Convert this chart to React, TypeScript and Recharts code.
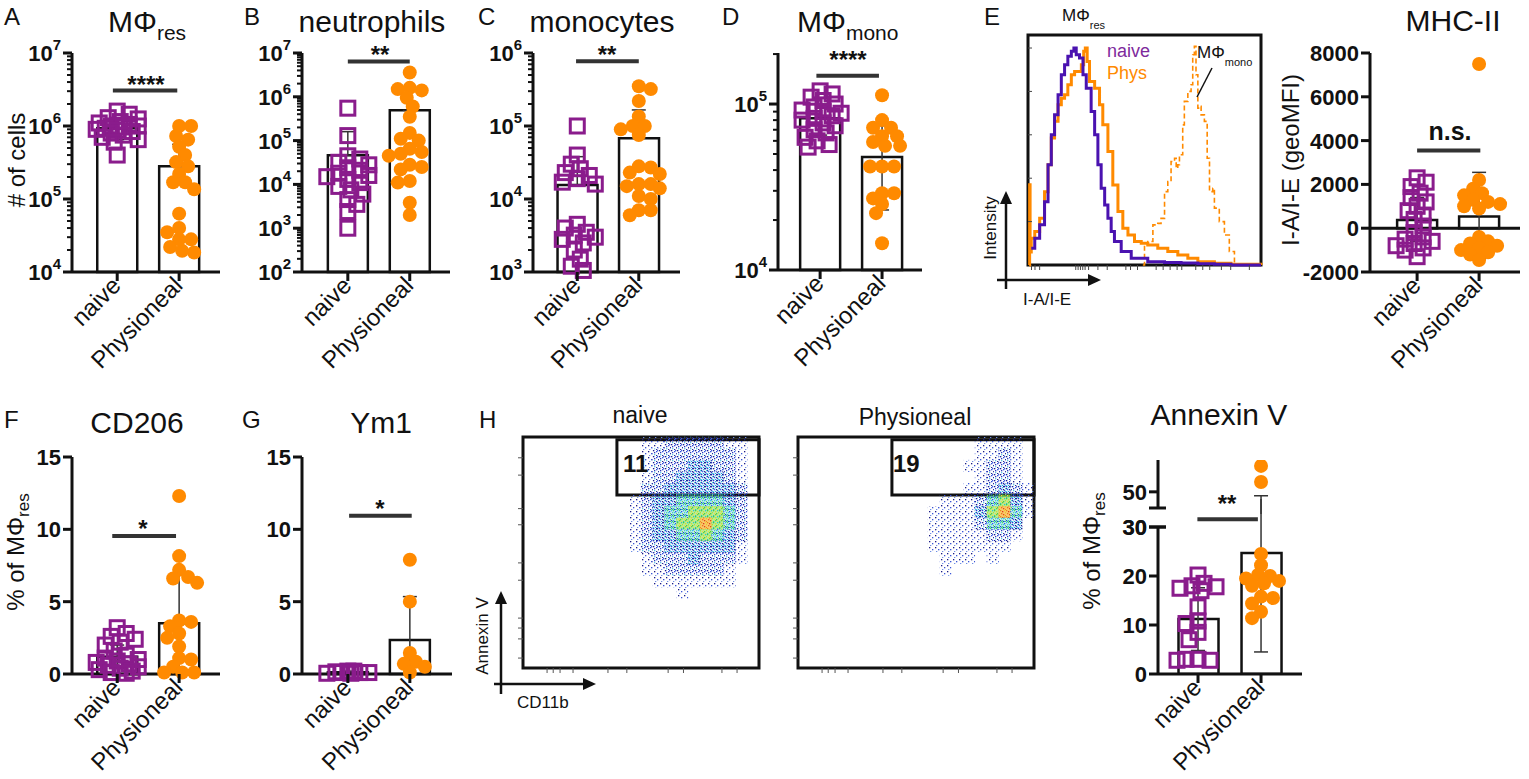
import React from "react";
import {
  ComposedChart,
  Bar,
  Scatter,
  ErrorBar,
  XAxis,
  YAxis,
  ReferenceLine,
  ReferenceArea,
  Line,
} from "recharts";

const FONT = '"Liberation Sans", Arial, Helvetica, sans-serif';
const INK = "#111";
const PURPLE = "#8a1c8c";
const ORANGE = "#ff8a00";
const GROUPS = ["naive", "Physioneal"];

// A – MΦres, # of cells
const resNaive = [1.6e6, 1.45e6, 1.3e6, 1.25e6, 1.15e6, 1.1e6, 1.05e6, 1.0e6, 1.0e6, 9.7e5, 9.3e5, 9.0e5, 8.7e5, 8.4e5, 8.0e5, 7.5e5, 7.0e5, 6.5e5, 6.0e5, 4.0e5];
const resPhys = [1.0e6, 1.0e6, 7.3e5, 6.5e5, 5.2e5, 4.0e5, 3.2e5, 2.8e5, 2.2e5, 1.7e5, 1.7e5, 1.36e5, 6.3e4, 4.0e4, 3.5e4, 2.8e4, 2.8e4, 2.2e4, 1.95e4, 1.85e4];
const resMean = [9.3e5, 2.8e5];
const resLow = [6.5e5, 2.8e5];
const resHigh = [1.2e6, 5.6e5];

// B – neutrophils
const neuNaive = [5.5e5, 1.3e5, 4.5e4, 3.8e4, 3.2e4, 2.8e4, 2.4e4, 2.1e4, 1.8e4, 1.6e4, 1.5e4, 1.3e4, 1.1e4, 9e3, 7.5e3, 6e3, 4.5e3, 3.5e3, 2.4e3, 1e3];
const neuPhys = [3.6e6, 1.6e6, 1.5e6, 1.4e6, 9.5e5, 6e5, 3.5e5, 1.5e5, 1.1e5, 1e5, 6.5e4, 5.5e4, 5e4, 4.5e4, 2.8e4, 2.5e4, 2.2e4, 1.2e4, 1.1e4, 3.8e3, 2e3];
const neuMean = [4.6e4, 4.9e5];
const neuLow = [4.6e4, 4.9e5];
const neuHigh = [1.6e5, 1.4e6];

// C – monocytes
const monNaive = [1e5, 4e4, 3e4, 2.6e4, 2.3e4, 2.1e4, 1.9e4, 1.7e4, 1.6e4, 4.5e3, 4e3, 3.5e3, 3.2e3, 3e3, 2.8e3, 2.5e3, 2e3, 1.5e3, 1.2e3, 1.05e3];
const monPhys = [3.5e5, 3.2e5, 2.2e5, 1.35e5, 1e5, 1e5, 9e4, 7.5e4, 2.8e4, 2.7e4, 2.3e4, 2.2e4, 1.6e4, 1.6e4, 1.5e4, 1.4e4, 1.1e4, 1e4, 7e3, 7e3, 6e3];
const monMean = [1.55e4, 6.8e4];
const monLow = [1.55e4, 6.8e4];
const monHigh = [3.8e4, 1.66e5];

// D – MΦmono
const mmNaive = [1.2e5, 1.15e5, 1.1e5, 1.05e5, 1e5, 9.6e4, 9.2e4, 9e4, 8.8e4, 8.5e4, 8.2e4, 8e4, 7.7e4, 7.4e4, 7e4, 6.7e4, 6.3e4, 6e4, 5.7e4, 5.5e4];
const mmPhys = [1.13e5, 8e4, 7.2e4, 7.2e4, 6.4e4, 6.4e4, 5.9e4, 5.6e4, 5.6e4, 4.2e4, 4.2e4, 4.2e4, 2.9e4, 2.9e4, 2.7e4, 2.5e4, 2.2e4, 1.45e4];
const mmMean = [8.2e4, 4.8e4];
const mmLow = [6.5e4, 2.3e4];
const mmHigh = [1e5, 7.4e4];

// E – MHC-II geoMFI
const mhcNaive = [2300, 2100, 1900, 1600, 1400, 1200, 1000, 800, 600, 400, 100, -200, -400, -500, -600, -700, -800, -900, -1000, -1300];
const mhcPhys = [7500, 2200, 1800, 1600, 1500, 1300, 1200, 1100, 1000, 900, -400, -600, -700, -800, -900, -1000, -1100, -1200, -1450];
const mhcMean = [380, 530];
const mhcLow = [-600, -1400];
const mhcHigh = [1400, 2550];

// F – CD206
const cdNaive = [3.2, 2.8, 2.6, 2.4, 2.2, 2.0, 1.6, 1.3, 1.1, 1.0, 0.9, 0.8, 0.7, 0.6, 0.5, 0.4, 0.3, 0.2, 0.1, 0.05];
const cdPhys = [12.3, 8.15, 7.2, 6.7, 6.6, 6.3, 3.7, 3.6, 3.3, 2.8, 2.5, 1.9, 1.1, 1.0, 0.5, 0.1, 0.1, 0.1];
const cdMean = [1.2, 3.5];
const cdLow = [0.4, 0];
const cdHigh = [2.0, 6.95];

// G – Ym1
const ymNaive = [0.2, 0.1, 0.15, 0.05, 0.1, 0.2, 0.1, 0.05];
const ymPhys = [7.9, 5.0, 1.45, 0.85, 0.7, 0.5, 0.1];
const ymMean = [0.12, 2.35];
const ymLow = [0.05, 0];
const ymHigh = [0.2, 5.35];

// H – Annexin V
const anNaive = [20.2, 18.5, 18, 17.8, 17.5, 17, 13.7, 10.8, 10.3, 8.5, 7, 3, 3, 2.8, 2.8];
const anPhys = [55.3, 52, 24.5, 22.2, 20.2, 20, 19.5, 19, 18.5, 18, 15.8, 15.5, 14.4, 12.7, 11.4];
const anMean = [11.2, 24.7];
const anLow = [4.8, 4.5];
const anHigh = [17.6, 49.2];

// E – histogram (bin, % of max)
const histNaive = [[1.4, 7.7], [2.9, 12.3], [5, 18.5], [7.1, 29.2], [8.6, 46.2], [10, 60], [11.4, 69.2], [12.9, 78.5], [14.3, 87.7], [15.7, 92.3], [17.1, 96.2], [18.6, 98.5], [19.7, 100], [20.7, 96.9], [22.1, 95.4], [23.6, 87.7], [25, 81.5], [27.1, 70.8], [28.6, 60], [30, 46.2], [31.4, 35.4], [32.9, 27.7], [34.3, 21.5], [35.7, 15.4], [37.1, 10.8], [40, 6.2], [44.3, 3.1], [51.4, 1.5], [58.6, 1.2], [65.7, 0.9], [72.9, 0.6], [80, 0.3], [87.1, 0], [100, 0]];
const histPhys = [[0.5, 0], [0.7, 37], [0.9, 6], [1.4, 12.3], [2.9, 15.4], [5, 21.5], [7.1, 33.8], [8.6, 46.2], [10, 58.5], [11.4, 66.2], [12.9, 73.8], [14.3, 76.9], [15.7, 78.5], [17.1, 83.1], [18.6, 87.7], [20, 89.2], [21.4, 89.2], [22.9, 92.3], [23.9, 98.5], [24.6, 100], [25.4, 93.8], [26.4, 84.6], [28.6, 81.5], [30.7, 73.8], [32.1, 64.6], [34.3, 52.3], [36.4, 36.9], [38.6, 24.6], [40.7, 16.9], [42.9, 13.8], [45.7, 10.8], [48.6, 10], [51.4, 9.2], [55.7, 7.7], [60, 6.2], [64.3, 4.6], [68.6, 3.1], [72.9, 1.5], [80, 0.8], [87.1, 0.3], [100, 0]];
const histMono = [[49.3, 0], [50, 9.2], [51.4, 10.8], [53.6, 18.5], [55.7, 19.2], [57.1, 21.5], [58.6, 33.8], [60, 38.5], [61.4, 47.7], [62.9, 49.2], [63.6, 44.6], [64.3, 46.2], [65, 50.8], [66.4, 64.6], [67.1, 75.4], [68.6, 80], [70, 83.1], [70.7, 96.9], [71.4, 100.8], [72.1, 87.7], [72.9, 72.3], [73.6, 73.1], [74.3, 69.2], [75.7, 66.2], [76.9, 49.2], [77.9, 33.8], [79.3, 35.4], [80, 26.2], [82.1, 20], [84.3, 13.8], [86.4, 6.2], [88.6, 0]];
const histTicksX = [1.5, 3, 5, 20.5, 21.5, 22.5, 23.5, 24.5, 26, 30, 34, 42, 44, 47, 55, 58, 61, 64, 66, 72, 75, 78, 83, 87, 95];

// H – flow density, 5-unit cells, rows from top (95–100) downwards
const flowNaive = [
  "001122222110",
  "001222222210",
  "001222332210",
  "001223333210",
  "002233333320",
  "012334444320",
  "012344555420",
  "012345565420",
  "012334454320",
  "012233333310",
  "001222322210",
  "001122222100",
  "000111111100",
  "000001000000",
];
const flowPhys = [
  "0000011110",
  "0000011210",
  "0000112210",
  "0000012210",
  "0000112321",
  "0011124531",
  "0111135641",
  "0111124430",
  "0111112210",
  "0111111100",
  "0011101000",
  "0010000000",
  "0000000000",
];
const flowTicksX = [10.2, 12.8, 15.7, 21.2, 36, 44, 61.5, 68, 84.3, 90.7];
const flowTicksY = [91, 83.5, 69, 62, 45.5, 38, 21.6, 17.3, 12.6, 4.3];

// speckle patterns per density level: [x, y, colour] in a 6x6 tile
const speckles: { bg?: string; dots: [number, number, string][] }[] = [
  { dots: [] },
  { dots: [[1, 1, "#1c1c86"], [4, 3, "#3a55d8"], [2, 5, "#6d8ee6"]] },
  {
    dots: [[0, 0, "#1a1a90"], [3, 1, "#2f4fe0"], [5, 3, "#1f2f9f"], [1, 4, "#5bc6e8"], [3, 5, "#22268e"], [1, 2, "#2a3ac0"], [4, 0, "#4060e0"]],
  },
  {
    dots: [[0, 0, "#1f3fd8"], [2, 1, "#2bb5e6"], [4, 0, "#1a2aa0"], [5, 2, "#3dd6d6"], [1, 3, "#2a6ae6"], [3, 3, "#1a1a88"], [0, 5, "#5ad0e0"], [4, 4, "#2a4ad0"], [2, 5, "#20a0e0"], [3, 0, "#1a2090"], [5, 5, "#40c0e8"], [0, 2, "#2438b8"]],
  },
  {
    bg: "rgba(70,190,220,0.3)",
    dots: [[0, 0, "#2ac0e0"], [2, 0, "#48d46a"], [4, 1, "#2a5ae0"], [1, 2, "#4ad6b0"], [3, 2, "#30c8e8"], [5, 3, "#60d850"], [0, 4, "#2050d8"], [2, 4, "#40d0a0"], [4, 5, "#22b8e0"], [5, 5, "#50d860"], [3, 5, "#1f3fc8"], [1, 5, "#38d068"]],
  },
  {
    bg: "rgba(130,220,70,0.55)",
    dots: [[0, 0, "#40d040"], [2, 1, "#c8e030"], [4, 0, "#2ec8c8"], [1, 3, "#e6e040"], [3, 3, "#48d048"], [5, 2, "#b0e030"], [0, 5, "#30c8b0"], [4, 5, "#e0e040"], [2, 4, "#60d040"]],
  },
  {
    bg: "rgba(245,180,40,0.7)",
    dots: [[0, 0, "#f08020"], [2, 1, "#e03a1a"], [4, 0, "#f0d030"], [1, 3, "#f06a20"], [3, 4, "#e04a1a"], [5, 2, "#f0c030"], [5, 5, "#f08a20"]],
  },
];

function swarm(vals: number[], toPx: (v: number) => number, ok: (v: number) => boolean, unit: number) {
  const placed: { x: number; y: number }[] = [];
  return vals.map((v, i) => {
    if (!ok(v)) return 0;
    const y = toPx(v);
    const cands = [0];
    for (let s = 3; s <= 21; s += 3) cands.push(i % 2 ? s : -s, i % 2 ? -s : s);
    let best = 0;
    let bestD = -1;
    for (const c of cands) {
      let md = Infinity;
      for (const q of placed) md = Math.min(md, Math.hypot(q.x - c, q.y - y));
      if (md >= 10) {
        best = c;
        break;
      }
      if (md > bestD) {
        bestD = md;
        best = c;
      }
    }
    placed.push({ x: best, y });
    return best / unit;
  });
}

type Panel = {
  left: number;
  top: number;
  width: number;
  height: number;
  xDomain: [number, number];
  yDomain: [number, number];
  log?: boolean;
  majors: number[];
  breaks?: number[];
  naive: number[];
  phys: number[];
  means: number[];
  lows: number[];
  highs: number[];
  sig?: { y: number; x1: number; x2: number };
  showX?: boolean;
  zeroLine?: boolean;
  clip?: boolean;
  noBars?: boolean;
};

const squareShape = (p: any) => (
  <rect x={p.cx - 7} y={p.cy - 7} width={14} height={14} fill="none" stroke={PURPLE} strokeWidth={3} />
);
const circleShape = (p: any) => <circle cx={p.cx} cy={p.cy} r={7} fill={ORANGE} />;
const emptyShape = () => <g />;

const CatTick = (props: any) => {
  const { x, y, payload } = props;
  const label = GROUPS[Math.round(payload.value) - 1];
  return (
    <g>
      <line x1={x} x2={x} y1={y} y2={y + 9} stroke={INK} strokeWidth={3} />
      <text
        transform={`translate(${x + 5},${y + 15}) rotate(-45)`}
        textAnchor="end"
        fontSize={24}
        fontFamily={FONT}
        fill={INK}
      >
        {label}
      </text>
    </g>
  );
};

function DotBar(p: Panel) {
  const t = (v: number) => (p.log ? Math.log10(v) : v);
  const d0 = t(p.yDomain[0]);
  const d1 = t(p.yDomain[1]);
  const [x0, x1] = p.xDomain;
  const unit = p.width / (x1 - x0);
  const toPx = (v: number) => ((d1 - t(v)) / (d1 - d0)) * p.height;
  const inRange = (v: number) => t(v) >= d0 - 1e-9 && t(v) <= d1 + 1e-9;
  const offN = swarm(p.naive, toPx, inRange, unit);
  const offP = swarm(p.phys, toPx, inRange, unit);
  const naivePts = p.naive.map((v, i) => ({ x: 1 + offN[i], y: t(v) }));
  const physPts = p.phys.map((v, i) => ({ x: 2 + offP[i], y: t(v) }));
  const bars = p.means.map((m, i) => ({ x: i + 1, y: p.log ? [d0, t(m)] : m }));
  const errs = p.means.map((m, i) => ({
    x: i + 1,
    y: t(m),
    e: [t(m) - t(p.lows[i]), t(p.highs[i]) - t(m)],
  }));
  const majors = p.majors.map(t);
  const breaks = p.breaks || [];
  const ticks = [...majors, ...breaks];
  if (p.log) {
    for (let e = Math.floor(d0); e <= Math.floor(d1); e++)
      for (let k = 2; k <= 9; k++) {
        const v = e + Math.log10(k);
        if (v < d1 + 1e-9) ticks.push(v);
      }
  }
  const near = (a: number, b: number) => Math.abs(a - b) < 1e-6;
  const YTick = (props: any) => {
    const { x, y, payload } = props;
    const v = payload.value;
    const isMajor = majors.some((m) => near(m, v));
    const isBreak = breaks.some((m) => near(m, v));
    const x2 = isBreak ? x + 8 : x;
    const len = isMajor || isBreak ? 9 : 5;
    return (
      <g>
        <line x1={x - len} x2={x2} y1={y} y2={y} stroke={INK} strokeWidth={isMajor || isBreak ? 3 : 2} />
        {isMajor && (
          <text x={x - 11} y={y + 8} textAnchor="end" fontSize={22} fontWeight="bold" fontFamily={FONT} fill={INK}>
            {p.log ? (
              <>
                <tspan>10</tspan>
                <tspan dy={-11} fontSize={15}>
                  {Math.round(v)}
                </tspan>
              </>
            ) : (
              String(Math.round(v))
            )}
          </text>
        )}
      </g>
    );
  };
  const ML = 80;
  const MR = 14;
  const MT = 28;
  const MB = p.showX ? 120 : 6;
  return (
    <div style={{ position: "absolute", left: p.left - ML, top: p.top - MT }}>
      <ComposedChart
        width={p.width + ML + MR}
        height={p.height + MT + MB}
        data={bars}
        margin={{ top: MT, right: MR, left: 0, bottom: p.showX ? 0 : MB }}
      >
        <XAxis
          type="number"
          dataKey="x"
          domain={p.xDomain}
          allowDataOverflow
          ticks={[1, 2]}
          interval={0}
          height={MB}
          hide={!p.showX}
          axisLine={{ stroke: INK, strokeWidth: 3 }}
          tickLine={false}
          tickSize={0}
          tickMargin={0}
          tick={<CatTick />}
        />
        <XAxis xAxisId="bar" type="number" dataKey="x" domain={p.xDomain} allowDataOverflow hide />
        <YAxis
          type="number"
          dataKey="y"
          domain={[d0, d1]}
          allowDataOverflow={!!p.clip}
          ticks={ticks}
          interval={0}
          width={ML}
          axisLine={{ stroke: INK, strokeWidth: 3 }}
          tickLine={false}
          tickSize={0}
          tickMargin={0}
          tick={(tp: any) => <YTick {...tp} />}
        />
        {p.zeroLine && <ReferenceLine y={0} stroke={INK} strokeWidth={3} />}
        {!p.noBars && (
          <Bar xAxisId="bar" dataKey="y" barSize={40} fill="#fff" stroke={INK} strokeWidth={2.5} isAnimationActive={false} />
        )}
        <Scatter data={naivePts} dataKey="y" shape={squareShape} isAnimationActive={false} />
        <Scatter data={physPts} dataKey="y" shape={circleShape} isAnimationActive={false} />
        <Scatter data={errs} dataKey="y" shape={emptyShape} isAnimationActive={false}>
          <ErrorBar dataKey="e" direction="y" width={7} stroke="#333" strokeWidth={1.5} />
        </Scatter>
        {p.sig && (
          <ReferenceLine
            segment={[
              { x: p.sig.x1, y: t(p.sig.y) },
              { x: p.sig.x2, y: t(p.sig.y) },
            ]}
            stroke="#333"
            strokeWidth={4}
            ifOverflow="visible"
          />
        )}
      </ComposedChart>
    </div>
  );
}

function Histogram() {
  const L = 1028;
  const T = 35;
  const W = 233;
  const H = 230;
  const ML = 10;
  const MT = 8;
  const MB = 10;
  const MR = 8;
  const toPts = (arr: number[][]) => arr.map(([b, v]) => ({ b, v }));
  const HTick = (props: any) => (
    <line x1={props.x} x2={props.x + 4} y1={props.y} y2={props.y} stroke="#444" strokeWidth={1} />
  );
  return (
    <div style={{ position: "absolute", left: L - ML, top: T - MT }}>
      <ComposedChart width={W + ML + MR} height={H + MT + MB} margin={{ top: MT, right: MR, left: 0, bottom: 0 }}>
        <XAxis
          type="number"
          dataKey="b"
          domain={[0, 100]}
          ticks={histTicksX}
          interval={0}
          height={MB}
          axisLine={false}
          tickLine={{ stroke: "#444", strokeWidth: 1 }}
          tickSize={5}
          tickFormatter={() => ""}
        />
        <YAxis
          type="number"
          domain={[0, 106]}
          ticks={[20, 40, 60, 80, 100]}
          interval={0}
          width={ML}
          axisLine={false}
          tickLine={false}
          tickSize={0}
          tickMargin={0}
          tick={(tp: any) => <HTick {...tp} />}
        />
        <Line data={toPts(histMono)} dataKey="v" type="stepAfter" dot={false} stroke={ORANGE} strokeWidth={1.6} strokeDasharray="5 3" isAnimationActive={false} />
        <Line data={toPts(histPhys)} dataKey="v" type="stepAfter" dot={false} stroke={ORANGE} strokeWidth={3} isAnimationActive={false} />
        <Line data={toPts(histNaive)} dataKey="v" type="stepAfter" dot={false} stroke="#4a12b0" strokeWidth={3} isAnimationActive={false} />
        <ReferenceArea x1={0} x2={100} y1={0} y2={106} fill="none" stroke={INK} strokeWidth={3} ifOverflow="visible" />
      </ComposedChart>
    </div>
  );
}

function FlowPlot({ left, top, grid, col0 }: { left: number; top: number; grid: string[]; col0: number }) {
  const W = 236;
  const H = 231;
  const ML = 8;
  const MT = 5;
  const MB = 8;
  const MR = 5;
  const cells: { x: number; y: number; lv: number }[] = [];
  grid.forEach((row, r) =>
    row.split("").forEach((ch, c) => {
      const lv = Number(ch);
      if (lv > 0) cells.push({ x: col0 + c * 5 + 2.5, y: 97.5 - r * 5, lv });
    })
  );
  const cw = (W / 100) * 5 + 0.4;
  const ch = (H / 100) * 5 + 0.4;
  const cellShape = (p: any) => (
    <rect x={p.cx - cw / 2} y={p.cy - ch / 2} width={cw} height={ch} fill={`url(#lv${p.payload.lv})`} />
  );
  return (
    <div style={{ position: "absolute", left: left - ML, top: top - MT }}>
      <ComposedChart width={W + ML + MR} height={H + MT + MB} margin={{ top: MT, right: MR, left: 0, bottom: 0 }}>
        <XAxis
          type="number"
          dataKey="x"
          domain={[0, 100]}
          ticks={flowTicksX}
          interval={0}
          height={MB}
          axisLine={false}
          tickLine={{ stroke: "#555", strokeWidth: 1 }}
          tickSize={5}
          tickFormatter={() => ""}
        />
        <YAxis
          type="number"
          dataKey="y"
          domain={[0, 100]}
          ticks={flowTicksY}
          interval={0}
          width={ML}
          axisLine={false}
          tickLine={{ stroke: "#555", strokeWidth: 1 }}
          tickSize={5}
          tickFormatter={() => ""}
        />
        <Scatter data={cells} dataKey="y" shape={cellShape} isAnimationActive={false} />
        <ReferenceArea x1={39.8} x2={100} y1={74.9} y2={98.8} fill="none" stroke={INK} strokeWidth={3} ifOverflow="visible" />
        <ReferenceArea x1={0} x2={100} y1={0} y2={100} fill="none" stroke={INK} strokeWidth={3} ifOverflow="visible" />
      </ComposedChart>
    </div>
  );
}

const Tx = ({ x, y, size = 24, weight, anchor = "start", rotate, fill = INK, children }: any) => (
  <text
    x={x}
    y={y}
    fontSize={size}
    fontWeight={weight}
    textAnchor={anchor}
    fill={fill}
    fontFamily={FONT}
    transform={rotate ? `rotate(${rotate} ${x} ${y})` : undefined}
  >
    {children}
  </text>
);

const Arrow = ({ x1, y1, x2, y2 }: any) => {
  const dx = x2 - x1;
  const dy = y2 - y1;
  const l = Math.hypot(dx, dy);
  const ux = dx / l;
  const uy = dy / l;
  const bx = x2 - ux * 13;
  const by = y2 - uy * 13;
  return (
    <g>
      <line x1={x1} y1={y1} x2={bx} y2={by} stroke={INK} strokeWidth={2.5} />
      <polygon points={`${x2},${y2} ${bx - uy * 6},${by + ux * 6} ${bx + uy * 6},${by - ux * 6}`} fill={INK} />
    </g>
  );
};

export default function App() {
  return (
    <div style={{ position: "absolute", left: 0, top: 0, width: 1529, height: 779, background: "#fff", overflow: "hidden" }}>
      <svg width={0} height={0} style={{ position: "absolute" }}>
        <defs>
          {speckles.map((s, i) =>
            i === 0 ? null : (
              <pattern key={i} id={`lv${i}`} width={6} height={6} patternUnits="userSpaceOnUse">
                {s.bg && <rect x={0} y={0} width={6} height={6} fill={s.bg} />}
                {s.dots.map(([dx, dy, c], j) => (
                  <rect key={j} x={dx} y={dy} width={1.3} height={1.3} fill={c} />
                ))}
              </pattern>
            )
          )}
        </defs>
      </svg>

      <DotBar left={72} top={53} width={148} height={219} xDomain={[0.27, 2.66]} yDomain={[1e4, 1e7]} log majors={[1e4, 1e5, 1e6, 1e7]}
        naive={resNaive} phys={resPhys} means={resMean} lows={resLow} highs={resHigh} sig={{ y: 3.06e6, x1: 0.93, x2: 1.97 }} showX />
      <DotBar left={302} top={53} width={148} height={219} xDomain={[0.26, 2.65]} yDomain={[1e2, 1e7]} log majors={[1e2, 1e3, 1e4, 1e5, 1e6, 1e7]}
        naive={neuNaive} phys={neuPhys} means={neuMean} lows={neuLow} highs={neuHigh} sig={{ y: 6.4e6, x1: 1.0, x2: 2.0 }} showX />
      <DotBar left={533} top={53} width={147} height={219} xDomain={[0.28, 2.67]} yDomain={[1e3, 1e6]} log majors={[1e3, 1e4, 1e5, 1e6]}
        naive={monNaive} phys={monPhys} means={monMean} lows={monLow} highs={monHigh} sig={{ y: 7.7e5, x1: 0.98, x2: 2.0 }} showX />
      <DotBar left={778} top={53} width={144} height={217} xDomain={[0.32, 2.645]} yDomain={[1e4, 2.03e5]} log majors={[1e4, 1e5]}
        naive={mmNaive} phys={mmPhys} means={mmMean} lows={mmLow} highs={mmHigh} sig={{ y: 1.48e5, x1: 0.94, x2: 1.95 }} showX />
      <DotBar left={1370} top={53} width={150} height={219} xDomain={[0.24, 2.66]} yDomain={[-2000, 8000]} majors={[-2000, 0, 2000, 4000, 6000, 8000]}
        naive={mhcNaive} phys={mhcPhys} means={mhcMean} lows={mhcLow} highs={mhcHigh} sig={{ y: 3550, x1: 1.0, x2: 2.02 }} showX zeroLine />
      <DotBar left={72} top={457} width={148} height={217} xDomain={[0.27, 2.66]} yDomain={[0, 15]} majors={[0, 5, 10, 15]}
        naive={cdNaive} phys={cdPhys} means={cdMean} lows={cdLow} highs={cdHigh} sig={{ y: 9.54, x1: 0.92, x2: 1.95 }} showX />
      <DotBar left={302} top={457} width={150} height={217} xDomain={[0.26, 2.68]} yDomain={[0, 15]} majors={[0, 5, 10, 15]}
        naive={ymNaive} phys={ymPhys} means={ymMean} lows={ymLow} highs={ymHigh} sig={{ y: 10.94, x1: 1.02, x2: 2.03 }} showX />
      <DotBar left={1158} top={460} width={144} height={48} xDomain={[0.365, 2.65]} yDomain={[46.7, 56.5]} majors={[50]} breaks={[46.7]}
        naive={anNaive} phys={anPhys} means={anMean} lows={anLow} highs={anHigh} clip noBars />
      <DotBar left={1158} top={527} width={144} height={147} xDomain={[0.365, 2.65]} yDomain={[0, 30]} majors={[0, 10, 20, 30]} breaks={[30]}
        naive={anNaive} phys={anPhys} means={anMean} lows={anLow} highs={anHigh} sig={{ y: 31.6, x1: 0.99, x2: 1.95 }} showX clip />

      <Histogram />
      <FlowPlot left={523} top={437} grid={flowNaive} col0={40} />
      <FlowPlot left={798} top={437} grid={flowPhys} col0={50} />

      <svg width={1529} height={779} style={{ position: "absolute", left: 0, top: 0, pointerEvents: "none" }}>
        {/* panel letters */}
        <Tx x={4} y={25}>A</Tx>
        <Tx x={244} y={25}>B</Tx>
        <Tx x={478} y={25}>C</Tx>
        <Tx x={722} y={25}>D</Tx>
        <Tx x={984} y={25}>E</Tx>
        <Tx x={4} y={428}>F</Tx>
        <Tx x={242} y={428}>G</Tx>
        <Tx x={479} y={428}>H</Tx>

        {/* titles */}
        <Tx x={108} y={32} size={30}>
          MΦ<tspan dy={8} fontSize={21}>res</tspan>
        </Tx>
        <Tx x={372} y={32} size={30} anchor="middle">neutrophils</Tx>
        <Tx x={602} y={32} size={30} anchor="middle">monocytes</Tx>
        <Tx x={797} y={32} size={30}>
          MΦ<tspan dy={8} fontSize={21}>mono</tspan>
        </Tx>
        <Tx x={1453} y={31} size={30} anchor="middle">MHC-II</Tx>
        <Tx x={137} y={433} size={30} anchor="middle">CD206</Tx>
        <Tx x={381} y={433} size={30} anchor="middle">Ym1</Tx>
        <Tx x={640} y={423} size={23} anchor="middle">naive</Tx>
        <Tx x={915} y={425} size={23} anchor="middle">Physioneal</Tx>
        <Tx x={1219} y={425} size={30} anchor="middle">Annexin V</Tx>

        {/* y axis titles */}
        <Tx x={25} y={160} size={24} anchor="middle" rotate={-90}># of cells</Tx>
        <Tx x={1299} y={160} size={24} anchor="middle" rotate={-90}>I-A/I-E (geoMFI)</Tx>
        <Tx x={24} y={552} size={24} anchor="middle" rotate={-90}>
          % of MΦ<tspan dy={5} fontSize={17}>res</tspan>
        </Tx>
        <Tx x={1100} y={551} size={24} anchor="middle" rotate={-90}>
          % of MΦ<tspan dy={5} fontSize={17}>res</tspan>
        </Tx>

        {/* significance */}
        <Tx x={146} y={93} weight="bold" anchor="middle">****</Tx>
        <Tx x={380} y={63} weight="bold" anchor="middle">**</Tx>
        <Tx x={607} y={63} weight="bold" anchor="middle">**</Tx>
        <Tx x={848} y={68} weight="bold" anchor="middle">****</Tx>
        <Tx x={1450} y={140} size={25} weight="bold" anchor="middle">n.s.</Tx>
        <Tx x={143} y={537} weight="bold" anchor="middle">*</Tx>
        <Tx x={380} y={517} weight="bold" anchor="middle">*</Tx>
        <Tx x={1227} y={512} weight="bold" anchor="middle">**</Tx>

        {/* histogram annotations */}
        <Tx x={1062} y={21} size={17}>
          MΦ<tspan dy={8} fontSize={11}>res</tspan>
        </Tx>
        <Tx x={1107} y={57} size={18} fill="#7e2a9c">naive</Tx>
        <Tx x={1107} y={79} size={18} fill={ORANGE}>Phys</Tx>
        <Tx x={1197} y={58} size={17}>
          MΦ<tspan dy={8} fontSize={11}>mono</tspan>
        </Tx>
        <line x1={1212} y1={68} x2={1197} y2={97} stroke={INK} strokeWidth={1.5} />
        <Arrow x1={1006} y1={289} x2={1006} y2={191} />
        <Arrow x1={997} y1={280} x2={1101} y2={280} />
        <Tx x={996} y={228} size={17} anchor="middle" rotate={-90}>Intensity</Tx>
        <Tx x={1023} y={305} size={17}>I-A/I-E</Tx>

        {/* flow annotations */}
        <Tx x={623} y={472} size={24} weight="bold">11</Tx>
        <Tx x={893} y={472} size={24} weight="bold">19</Tx>
        <Arrow x1={501} y1={694} x2={501} y2={591} />
        <Arrow x1={494} y1={684} x2={596} y2={684} />
        <Tx x={488} y={636} size={17} anchor="middle" rotate={-90}>Annexin V</Tx>
        <Tx x={517} y={708} size={17}>CD11b</Tx>
      </svg>
    </div>
  );
}
